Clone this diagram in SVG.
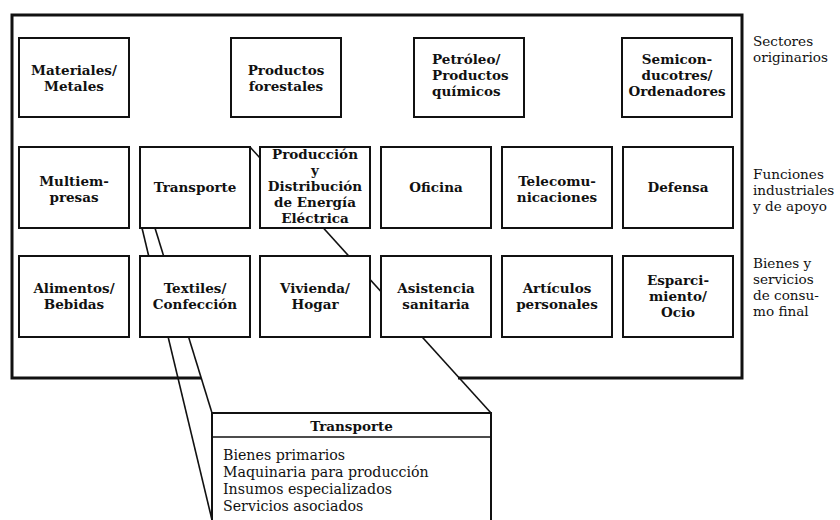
<svg xmlns="http://www.w3.org/2000/svg" width="840" height="520" viewBox="0 0 840 520">
<style>
.box{fill:#fff;stroke:#111;stroke-width:2}
.t{font-family:"DejaVu Serif","Liberation Serif",serif;font-weight:bold;font-size:13.5px;text-anchor:middle;fill:#111}
.ts{font-family:"DejaVu Serif","Liberation Serif",serif;font-weight:bold;font-size:13.5px;fill:#111}
.lbl{font-family:"DejaVu Serif","Liberation Serif",serif;font-size:13.6px;fill:#111}
.li{font-family:"DejaVu Serif","Liberation Serif",serif;font-size:14.2px;fill:#111}
.conn{stroke:#111;stroke-width:1.6;fill:none}
.frame{stroke:#111;stroke-width:3;fill:none}
</style>
<rect width="840" height="520" fill="#fff"/>
<path class="frame" d="M201 378 L12 378 L12 15 L742 15 L742 378 L458 378"/>
<g id="connectors">
<line class="conn" x1="142" y1="228" x2="212" y2="520"/>
<line class="conn" x1="155" y1="228" x2="212" y2="413"/>
<line class="conn" x1="250" y1="147" x2="491" y2="413"/>
</g>
<g id="materiales"><rect class="box" x="19" y="38" width="110" height="79"/><text class="t" x="74" y="75">Materiales/</text><text class="t" x="74" y="91">Metales</text></g>
<g id="forestales"><rect class="box" x="231" y="38" width="110" height="79"/><text class="t" x="286" y="75">Productos</text><text class="t" x="286" y="91">forestales</text></g>
<g id="petroleo"><rect class="box" x="414" y="38" width="110" height="79"/><text class="ts" x="432" y="64">Petróleo/</text><text class="ts" x="432" y="80">Productos</text><text class="ts" x="432" y="96">químicos</text></g>
<g id="semiconductores"><rect class="box" x="622" y="38" width="110" height="79"/><text class="t" x="677" y="64">Semicon-</text><text class="t" x="677" y="80">ducotres/</text><text class="t" x="677" y="96">Ordenadores</text></g>
<g id="multiempresas"><rect class="box" x="19" y="147" width="110" height="81"/><text class="t" x="74" y="186">Multiem-</text><text class="t" x="74" y="202">presas</text></g>
<g id="transporte"><rect class="box" x="140" y="147" width="110" height="81"/><text class="t" x="195" y="192">Transporte</text></g>
<g id="energia"><rect class="box" x="260" y="147" width="110" height="81"/><text class="t" x="315" y="159">Producción</text><text class="t" x="315" y="175">y</text><text class="t" x="315" y="191">Distribución</text><text class="t" x="315" y="207">de Energía</text><text class="t" x="315" y="223">Eléctrica</text></g>
<g id="oficina"><rect class="box" x="381" y="147" width="110" height="81"/><text class="t" x="436" y="192">Oficina</text></g>
<g id="telecom"><rect class="box" x="502" y="147" width="110" height="81"/><text class="t" x="557" y="186">Telecomu-</text><text class="t" x="557" y="202">nicaciones</text></g>
<g id="defensa"><rect class="box" x="623" y="147" width="110" height="81"/><text class="t" x="678" y="192">Defensa</text></g>
<g id="alimentos"><rect class="box" x="19" y="256" width="110" height="81"/><text class="t" x="74" y="293">Alimentos/</text><text class="t" x="74" y="309">Bebidas</text></g>
<g id="textiles"><rect class="box" x="140" y="256" width="110" height="81"/><text class="t" x="195" y="293">Textiles/</text><text class="t" x="195" y="309">Confección</text></g>
<g id="vivienda"><rect class="box" x="260" y="256" width="110" height="81"/><text class="t" x="315" y="293">Vivienda/</text><text class="t" x="315" y="309">Hogar</text></g>
<g id="asistencia"><rect class="box" x="381" y="256" width="110" height="81"/><text class="t" x="436" y="293">Asistencia</text><text class="t" x="436" y="309">sanitaria</text></g>
<g id="articulos"><rect class="box" x="502" y="256" width="110" height="81"/><text class="t" x="557" y="293">Artículos</text><text class="t" x="557" y="309">personales</text></g>
<g id="esparcimiento"><rect class="box" x="623" y="256" width="110" height="81"/><text class="t" x="678" y="285">Esparci-</text><text class="t" x="678" y="301">miento/</text><text class="t" x="678" y="317">Ocio</text></g>
<g id="label-sectores"><text class="lbl" x="753" y="46">Sectores</text><text class="lbl" x="753" y="62">originarios</text></g>
<g id="label-funciones"><text class="lbl" x="753" y="179">Funciones</text><text class="lbl" x="753" y="195">industriales</text><text class="lbl" x="753" y="211">y de apoyo</text></g>
<g id="label-bienes"><text class="lbl" x="753" y="267.5">Bienes y</text><text class="lbl" x="753" y="283.5">servicios</text><text class="lbl" x="753" y="299.5">de consu-</text><text class="lbl" x="753" y="315.5">mo final</text></g>
<g id="callout-transporte">
<path class="box" d="M212 530 L212 413 L491 413 L491 530"/>
<line class="conn" x1="212" y1="437" x2="491" y2="437" stroke-width="1.8"/>
<text class="t" x="351.5" y="431">Transporte</text>
<text class="li" x="223" y="460">Bienes primarios</text>
<text class="li" x="223" y="477">Maquinaria para producción</text>
<text class="li" x="223" y="494">Insumos especializados</text>
<text class="li" x="223" y="511">Servicios asociados</text>
</g>
</svg>
